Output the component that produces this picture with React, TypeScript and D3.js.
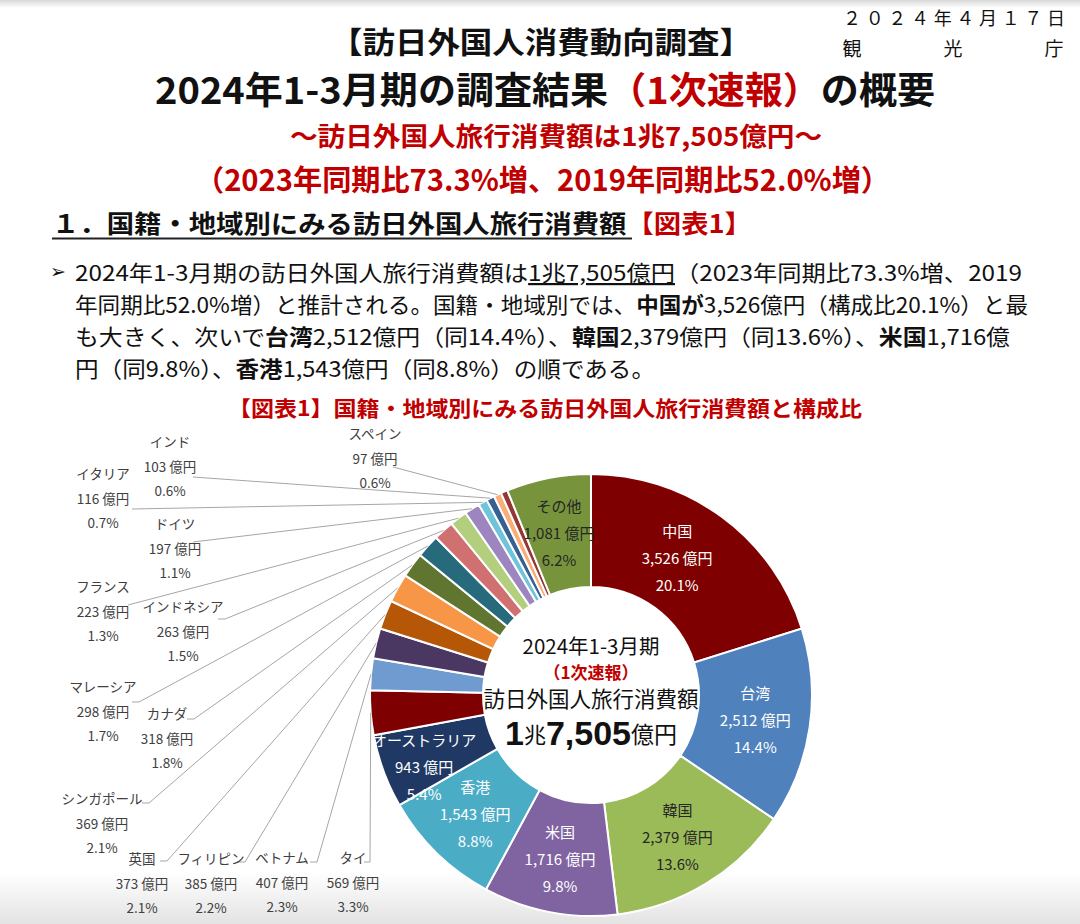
import React from 'react';
import * as d3 from 'd3';

const countries = ['中国', '台湾', '韓国', '米国', '香港', 'オーストラリア', 'タイ', 'ベトナム', 'フィリピン', '英国', 'シンガポール', 'カナダ', 'マレーシア', 'インドネシア', 'フランス', 'ドイツ', 'イタリア', 'インド', 'スペイン', 'ロシア', 'その他'];
const values = [3526, 2512, 2379, 1716, 1543, 943, 569, 407, 385, 373, 369, 318, 298, 263, 223, 197, 116, 103, 97, 87, 1081];
const colors = ['#7f0000', '#4f81bd', '#9bbb59', '#8064a2', '#4bacc6', '#1f3864', '#7f0000', '#6f9bd1', '#4b3862', '#b65708', '#f79646', '#5f7530', '#276a7c', '#d07070', '#b3cf7d', '#9d86bf', '#6fc3da', '#376092', '#f9ad78', '#953735', '#77933c'];
const insideLabels = ['中国', '台湾', '韓国', '米国', '香港', 'オーストラリア', 'その他'];
const darkInside = ['韓国', 'その他'];
const hiddenLabels = ['ロシア'];

// layout of outside labels (text centre x, first line y, leader start, horizontal tail)
const outsideLayout: Record<string, { x: number; y: number; ax: number; ay: number; tail: number }> = {
  'スペイン': { x: 375, y: 433, ax: 393, ay: 467, tail: 0 },
  'インド': { x: 170, y: 441, ax: 193, ay: 477, tail: 0 },
  'イタリア': { x: 103, y: 473, ax: 132, ay: 509, tail: 0 },
  'ドイツ': { x: 175, y: 523, ax: 193, ay: 542, tail: 0 },
  'フランス': { x: 103, y: 586, ax: 128, ay: 605, tail: 0 },
  'インドネシア': { x: 183, y: 606, ax: 218, ay: 619, tail: 7 },
  'マレーシア': { x: 103, y: 686, ax: 132, ay: 702, tail: 7 },
  'カナダ': { x: 167, y: 713, ax: 187, ay: 719, tail: 7 },
  'シンガポール': { x: 102, y: 798, ax: 142, ay: 803, tail: 7 },
  '英国': { x: 142, y: 858, ax: 160, ay: 861, tail: 7 },
  'フィリピン': { x: 211, y: 858, ax: 238, ay: 862, tail: 7 },
  'ベトナム': { x: 282, y: 857, ax: 310, ay: 862, tail: 7 },
  'タイ': { x: 353, y: 857, ax: 364, ay: 862, tail: 6 },
};
const insideNudge: Record<string, [number, number]> = {
  '中国': [-12, -4],
  'オーストラリア': [-11, 14],
};

const FONT = '"Noto Sans CJK JP", "Noto Sans", sans-serif';
const RED = '#c00000';

export default function App() {
  const W = 1080, H = 924;
  const cx = 591, cy = 695, r0 = 108, r1 = 221;
  const total = d3.sum(values);
  const data = countries.map((c, i) => ({ name: c, value: values[i], color: colors[i] }));
  const pie = d3.pie<any>().value((d: any) => d.value).sort(null).startAngle(0).endAngle(Math.PI * 2);
  const arcs = pie(data);
  const arc = d3.arc<any>().innerRadius(r0).outerRadius(r1);
  const fmt = d3.format(',');
  const pct = (v: number) => d3.format('.1f')((v / total) * 100) + '%';
  const edge = (a: any, r: number) => {
    const m = (a.startAngle + a.endAngle) / 2;
    return [cx + r * Math.sin(m), cy - r * Math.cos(m)];
  };
  const line = d3.line();

  return (
    <div style={{ position: 'absolute', left: 0, top: 0 }}>
      <svg width={W} height={H} style={{ display: 'block', fontFamily: FONT }}>
        <defs>
          <linearGradient id="gtop" x1="0" y1="0" x2="0" y2="1">
            <stop offset="0" stopColor="#d8d8d8" />
            <stop offset="1" stopColor="#ffffff" />
          </linearGradient>
          <linearGradient id="gbot" x1="0" y1="0" x2="0" y2="1">
            <stop offset="0" stopColor="#ffffff" />
            <stop offset="1" stopColor="#e3e3e3" />
          </linearGradient>
        </defs>
        <rect x={0} y={0} width={W} height={H} fill="#fff" />
        <rect x={0} y={0} width={W} height={8} fill="url(#gtop)" />
        <rect x={0} y={872} width={W} height={52} fill="url(#gbot)" />

        {/* header */}
        <text x={843} y={17} fontSize={18} dominantBaseline="central" textLength={222} lengthAdjust="spacing" fill="#111">２０２４年４月１７日</text>
        {['観', '光', '庁'].map((c, i) => (
          <text key={c} x={852 + i * 101} y={47} fontSize={19} textAnchor="middle" dominantBaseline="central" fill="#111">{c}</text>
        ))}
        <text x={330} y={40} fontSize={30} fontWeight="bold" dominantBaseline="central" textLength={422} lengthAdjust="spacingAndGlyphs" fill="#111">【訪日外国人消費動向調査】</text>
        <text x={155} y={88} fontSize={37} fontWeight="bold" dominantBaseline="central" textLength={780} lengthAdjust="spacingAndGlyphs" fill="#111">
          2024年1-3月期の調査結果<tspan fill={RED}>（1次速報）</tspan>の概要
        </text>
        <text x={290} y={134} fontSize={26} fontWeight="bold" dominantBaseline="central" textLength={532} lengthAdjust="spacingAndGlyphs" fill={RED}>～訪日外国人旅行消費額は1兆7,505億円～</text>
        <text x={195} y={178} fontSize={29} fontWeight="bold" dominantBaseline="central" textLength={695} lengthAdjust="spacingAndGlyphs" fill={RED}>（2023年同期比73.3%増、2019年同期比52.0%増）</text>

        <text x={52} y={222} fontSize={25} fontWeight="bold" dominantBaseline="central" textLength={700} lengthAdjust="spacingAndGlyphs" fill="#111">
          １．国籍・地域別にみる訪日外国人旅行消費額<tspan fill={RED}>【図表1】</tspan>
        </text>
        <line x1={52} x2={632} y1={238.5} y2={238.5} stroke="#222" strokeWidth={2} />

        {/* paragraph */}
        <text x={50} y={271} fontSize={19} dominantBaseline="central" fill="#111" fontFamily='"DejaVu Sans", sans-serif'>➢</text>
        <text x={75} y={271} fontSize={22} dominantBaseline="central" textLength={947} lengthAdjust="spacingAndGlyphs" fill="#111">
          2024年1-3月期の訪日外国人旅行消費額は<tspan style={{ textDecoration: 'underline' }}>1兆7,505億円</tspan>（2023年同期比73.3%増、2019
        </text>
        <text x={75} y={303} fontSize={22} dominantBaseline="central" textLength={953} lengthAdjust="spacingAndGlyphs" fill="#111">
          年同期比52.0%増）と推計される。国籍・地域別では、<tspan fontWeight="bold">中国が</tspan>3,526億円（構成比20.1%）と最
        </text>
        <text x={75} y={335} fontSize={22} dominantBaseline="central" textLength={935} lengthAdjust="spacingAndGlyphs" fill="#111">
          も大きく、次いで<tspan fontWeight="bold">台湾</tspan>2,512億円（同14.4%）、<tspan fontWeight="bold">韓国</tspan>2,379億円（同13.6%）、<tspan fontWeight="bold">米国</tspan>1,716億
        </text>
        <text x={75} y={367} fontSize={22} dominantBaseline="central" textLength={580} lengthAdjust="spacingAndGlyphs" fill="#111">
          円（同9.8%）、<tspan fontWeight="bold">香港</tspan>1,543億円（同8.8%）の順である。
        </text>

        <text x={228} y={407} fontSize={21} fontWeight="bold" dominantBaseline="central" textLength={634} lengthAdjust="spacingAndGlyphs" fill={RED}>【図表1】国籍・地域別にみる訪日外国人旅行消費額と構成比</text>

        {/* donut */}
        <g transform={`translate(${cx},${cy})`}>
          {arcs.map((a: any) => (
            <path key={a.data.name} d={arc(a) as string} fill={a.data.color} stroke="#fff" strokeWidth={2} />
          ))}
        </g>

        {/* leader lines + outside labels */}
        {arcs.filter((a: any) => outsideLayout[a.data.name]).map((a: any) => {
          const L = outsideLayout[a.data.name];
          const p = edge(a, r1) as [number, number];
          const pts: [number, number][] = L.tail ? [[L.ax, L.ay], [L.ax + L.tail, L.ay], p] : [[L.ax, L.ay], p];
          return <path key={'l' + a.data.name} d={line(pts) as string} fill="none" stroke="#a6a6a6" strokeWidth={1} />;
        })}
        {arcs.filter((a: any) => outsideLayout[a.data.name]).map((a: any) => {
          const L = outsideLayout[a.data.name];
          return (
            <g key={'t' + a.data.name} fill="#404040" fontSize={13.5} textAnchor="middle">
              <text x={L.x} y={L.y} dominantBaseline="central">{a.data.name}</text>
              <text x={L.x} y={L.y + 24.5} dominantBaseline="central">{fmt(a.data.value)} 億円</text>
              <text x={L.x} y={L.y + 49} dominantBaseline="central">{pct(a.data.value)}</text>
            </g>
          );
        })}

        {/* inside labels */}
        {arcs.filter((a: any) => insideLabels.includes(a.data.name) && !hiddenLabels.includes(a.data.name)).map((a: any) => {
          const [x0, y0] = edge(a, 166);
          const n = insideNudge[a.data.name] || [0, 0];
          const x = x0 + n[0], y = y0 + n[1];
          const col = darkInside.includes(a.data.name) ? '#262626' : '#ffffff';
          return (
            <g key={'i' + a.data.name} fill={col} fontSize={15} textAnchor="middle">
              <text x={x} y={y - 27} dominantBaseline="central">{a.data.name}</text>
              <text x={x} y={y} dominantBaseline="central">{fmt(a.data.value)} 億円</text>
              <text x={x} y={y + 27} dominantBaseline="central">{pct(a.data.value)}</text>
            </g>
          );
        })}

        {/* centre */}
        <g textAnchor="middle" fill="#111">
          <text x={cx} y={645} fontSize={20.5} dominantBaseline="central">2024年1-3月期</text>
          <text x={cx} y={671} fontSize={17} fontWeight="bold" fill={RED} dominantBaseline="central">（1次速報）</text>
          <text x={cx} y={697} fontSize={21.5} dominantBaseline="central">訪日外国人旅行消費額</text>
          <text x={cx} y={733} dominantBaseline="central">
            <tspan fontSize={34} fontWeight="bold" fontFamily='"Liberation Sans", Arial, sans-serif'>1</tspan>
            <tspan fontSize={22}>兆</tspan>
            <tspan fontSize={34} fontWeight="bold" fontFamily='"Liberation Sans", Arial, sans-serif'>7,505</tspan>
            <tspan fontSize={23}>億円</tspan>
          </text>
        </g>
      </svg>
    </div>
  );
}
